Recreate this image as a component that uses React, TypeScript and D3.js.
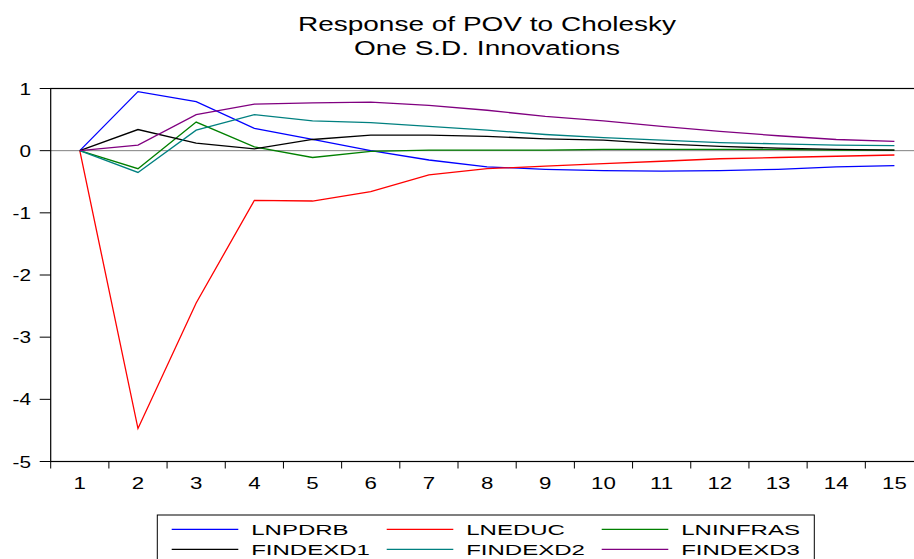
import * as d3 from 'd3';
import React, { useRef, useEffect } from 'react';

const W = 914;
const H = 559;

const periods = [1, 2, 3, 4, 5, 6, 7, 8, 9, 10, 11, 12, 13, 14, 15];
const yTicks = [1, 0, -1, -2, -3, -4, -5];
const titleLines = ['Response of POV to Cholesky', 'One S.D. Innovations'];

const seriesNames = ['LNPDRB', 'LNEDUC', 'LNINFRAS', 'FINDEXD1', 'FINDEXD2', 'FINDEXD3'];
const seriesColors = ['#0000ff', '#ff0000', '#008000', '#000000', '#008080', '#800080'];

const lnpdrb = [0, 0.95, 0.79, 0.36, 0.18, 0.0, -0.15, -0.26, -0.30, -0.32, -0.33, -0.32, -0.30, -0.26, -0.24];
const lneduc = [0, -4.47, -2.45, -0.80, -0.81, -0.66, -0.39, -0.29, -0.25, -0.21, -0.17, -0.13, -0.11, -0.09, -0.07];
const lninfras = [0, -0.29, 0.46, 0.06, -0.11, -0.01, 0.01, 0.01, 0.01, 0.02, 0.02, 0.02, 0.02, 0.01, 0.01];
const findexd1 = [0, 0.34, 0.12, 0.03, 0.18, 0.25, 0.25, 0.23, 0.19, 0.17, 0.11, 0.07, 0.04, 0.02, 0.01];
const findexd2 = [0, -0.35, 0.33, 0.58, 0.48, 0.45, 0.39, 0.33, 0.26, 0.21, 0.17, 0.13, 0.11, 0.09, 0.08];
const findexd3 = [0, 0.09, 0.58, 0.75, 0.77, 0.78, 0.73, 0.65, 0.55, 0.48, 0.39, 0.31, 0.24, 0.18, 0.15];

const seriesValues = [lnpdrb, lneduc, lninfras, findexd1, findexd2, findexd3];

const plot = { left: 50.7, right: 923.5, top: 88.5, bottom: 461.5 };
const font = 'Arial, "Liberation Sans", sans-serif';
const stretch = 1.4; // the original's text is drawn wide

const App = () => {
  const svgRef = useRef<SVGSVGElement>(null);

  useEffect(() => {
    const svg = d3.select(svgRef.current);
    svg.selectAll('*').remove();

    const x = d3.scaleBand<number>()
      .domain(periods)
      .range([plot.left, plot.right])
      .padding(0);
    const cx = (p: number) => (x(p) as number) + x.bandwidth() / 2;

    const y = d3.scaleLinear()
      .domain([-5, 1])
      .range([plot.bottom, plot.top]);

    const wideText = (g: any, txt: string, tx: number, ty: number, size: number, anchor: string, sx: number) =>
      g.append('text')
        .attr('transform', `translate(${tx},${ty}) scale(${sx},1)`)
        .attr('text-anchor', anchor)
        .style('font-family', font)
        .style('font-size', `${size}px`)
        .attr('fill', '#000')
        .text(txt);

    // title
    titleLines.forEach((t, i) => wideText(svg, t, 487, 31 + i * 24, 20, 'middle', stretch));

    // zero line
    svg.append('line')
      .attr('x1', plot.left).attr('x2', plot.right)
      .attr('y1', y(0)).attr('y2', y(0))
      .attr('stroke', '#808080').attr('stroke-width', 1);

    // y ticks
    yTicks.forEach(v => {
      svg.append('line')
        .attr('x1', plot.left - 11).attr('x2', plot.left)
        .attr('y1', y(v)).attr('y2', y(v))
        .attr('stroke', '#000').attr('stroke-width', 1);
      wideText(svg, String(v), 31, y(v) + 6, 16, 'end', 1.3);
    });

    // x ticks on band boundaries
    periods.forEach(p => {
      const bx = x(p) as number;
      svg.append('line')
        .attr('x1', bx).attr('x2', bx)
        .attr('y1', plot.bottom).attr('y2', plot.bottom + 7)
        .attr('stroke', '#000').attr('stroke-width', 1);
      wideText(svg, String(p), cx(p), 489, 16.5, 'middle', 1.35);
    });

    // series
    const line = d3.line<number>()
      .x((_, i) => cx(periods[i]))
      .y(d => y(d));

    seriesValues.forEach((vals, k) => {
      svg.append('path')
        .attr('d', line(vals))
        .attr('fill', 'none')
        .attr('stroke', seriesColors[k])
        .attr('stroke-width', 1.3);
    });

    // frame (right side runs off the picture)
    svg.append('rect')
      .attr('x', plot.left).attr('y', plot.top)
      .attr('width', plot.right - plot.left)
      .attr('height', plot.bottom - plot.top)
      .attr('fill', 'none').attr('stroke', '#000').attr('stroke-width', 1.2);

    // legend
    const legend = svg.append('g');
    legend.append('rect')
      .attr('x', 157.3).attr('y', 515)
      .attr('width', 657).attr('height', 60)
      .attr('fill', 'none').attr('stroke', '#000').attr('stroke-width', 1);

    seriesNames.forEach((name, i) => {
      const col = i % 3;
      const row = Math.floor(i / 3);
      const lx = 171.7 + col * 215;
      const ly = 529.3 + row * 20;
      legend.append('line')
        .attr('x1', lx).attr('x2', lx + 66.6)
        .attr('y1', ly).attr('y2', ly)
        .attr('stroke', seriesColors[i]).attr('stroke-width', 1.3);
      wideText(legend, name, lx + 79.5, ly + 6, 15.5, 'start', 1.55);
    });
  }, []);

  return (
    <svg
      ref={svgRef}
      width={W}
      height={H}
      style={{ position: 'absolute', left: 0, top: 0, background: '#fff', display: 'block' }}
    />
  );
};

export default App;
